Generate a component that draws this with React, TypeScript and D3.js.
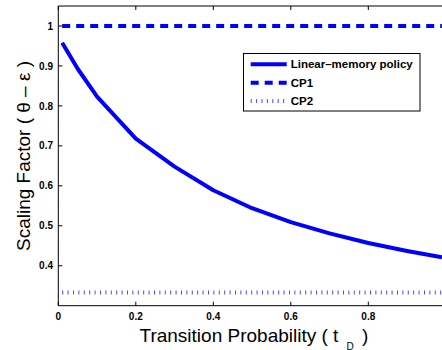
import React from "react";
import * as d3 from "d3";

const tValues = [0.01, 0.05, 0.1, 0.2, 0.3, 0.4, 0.5, 0.6, 0.7, 0.8, 0.9, 0.99];
const linearMemory = [0.958, 0.893, 0.823, 0.718, 0.648, 0.589, 0.544, 0.509, 0.481, 0.457, 0.437, 0.421];
const cp1 = tValues.map(() => 1.0);
const cp2 = tValues.map(() => 1 / 3);
const xTicks = [0, 0.2, 0.4, 0.6, 0.8];
const xTickLabels = ["0", "0.2", "0.4", "0.6", "0.8"];
const yTicks = [0.4, 0.5, 0.6, 0.7, 0.8, 0.9, 1];
const yTickLabels = ["0.4", "0.5", "0.6", "0.7", "0.8", "0.9", "1"];
const legendLabels = ["Linear\u2013memory policy", "CP1", "CP2"];

const W = 442;
const H = 350;
const left = 58.3;
const right = 445.8;
const top = 6;
const bottom = 305.7;

export default function App() {
  const x = d3.scaleLinear().domain([0, 1]).range([left, right]);
  const y = d3.scaleLinear().domain([0.3, 1.05]).range([bottom, top]);
  const line = d3
    .line<number>()
    .x((_, i) => x(tValues[i]))
    .y((d) => y(d));
  const blue = "#0000ff";
  const font = "Liberation Sans, Arial, Helvetica, sans-serif";
  const legX = 243.5;
  const legY = 53.5;
  const legW = 176.5;
  const legH = 57.5;
  const rows = [64.3, 82.7, 101];
  const styles = [
    { w: 4, dash: undefined as string | undefined, color: blue },
    { w: 4, dash: "8 6", color: blue },
    { w: 4, dash: "1 4.4", color: "#4848ff" },
  ];
  return (
    <svg
      width={W}
      height={H}
      style={{ position: "absolute", left: 0, top: 0, background: "#fff" }}
      fontFamily={font}
    >
      <rect x={0} y={0} width={W} height={H} fill="#fff" />
      <defs>
        <clipPath id="plot">
          <rect x={left} y={top} width={right - left} height={bottom - top} />
        </clipPath>
      </defs>
      <g clipPath="url(#plot)" fill="none">
        <path d={line(cp2) || ""} stroke={styles[2].color} strokeWidth={4} strokeDasharray={styles[2].dash} />
        <path d={line(cp1) || ""} stroke={blue} strokeWidth={4} strokeDasharray={styles[1].dash} />
        <path d={line(linearMemory) || ""} stroke={blue} strokeWidth={4} strokeLinejoin="round" />
      </g>
      <g stroke="#000" strokeWidth={1} fill="none">
        <line x1={left} x2={left} y1={top} y2={bottom} />
        <line x1={left} x2={W} y1={top} y2={top} />
        <line x1={left} x2={W} y1={bottom} y2={bottom} />
        {xTicks.map((t) => (
          <g key={"xt" + t}>
            <line x1={x(t)} x2={x(t)} y1={bottom} y2={bottom - 4} />
            <line x1={x(t)} x2={x(t)} y1={top} y2={top + 4} />
          </g>
        ))}
        {yTicks.map((t) => (
          <line key={"yt" + t} x1={left} x2={left + 4} y1={y(t)} y2={y(t)} />
        ))}
      </g>
      <g fontSize={10} fontWeight="bold" fill="#000">
        {xTicks.map((t, i) => (
          <text key={"xl" + t} x={x(t)} y={319.5} textAnchor="middle">
            {xTickLabels[i]}
          </text>
        ))}
        {yTicks.map((t, i) => (
          <text key={"yl" + t} x={53} y={y(t) + 3.6} textAnchor="end">
            {yTickLabels[i]}
          </text>
        ))}
      </g>
      <text x={139.5} y={341.7} fontSize={19} fill="#000">
        Transition Probability ( t
      </text>
      <text x={346.5} y={349.5} fontSize={10} fill="#000">
        D
      </text>
      <text x={362} y={341.7} fontSize={19} fill="#000">
        )
      </text>
      <text
        transform="translate(29.5,156) rotate(-90)"
        textAnchor="middle"
        fontSize={19}
        fill="#000"
      >
        Scaling Factor ( θ – ε )
      </text>
      <rect x={legX} y={legY} width={legW} height={legH} fill="#fff" stroke="#000" strokeWidth={1} />
      {legendLabels.map((lab, i) => (
        <g key={lab}>
          <line
            x1={250.7}
            x2={286.7}
            y1={rows[i]}
            y2={rows[i]}
            stroke={styles[i].color}
            strokeWidth={4}
            strokeDasharray={styles[i].dash}
          />
          <text x={290.7} y={rows[i] + 4} fontSize={11.5} fontWeight="bold" fill="#000">
            {lab}
          </text>
        </g>
      ))}
    </svg>
  );
}
